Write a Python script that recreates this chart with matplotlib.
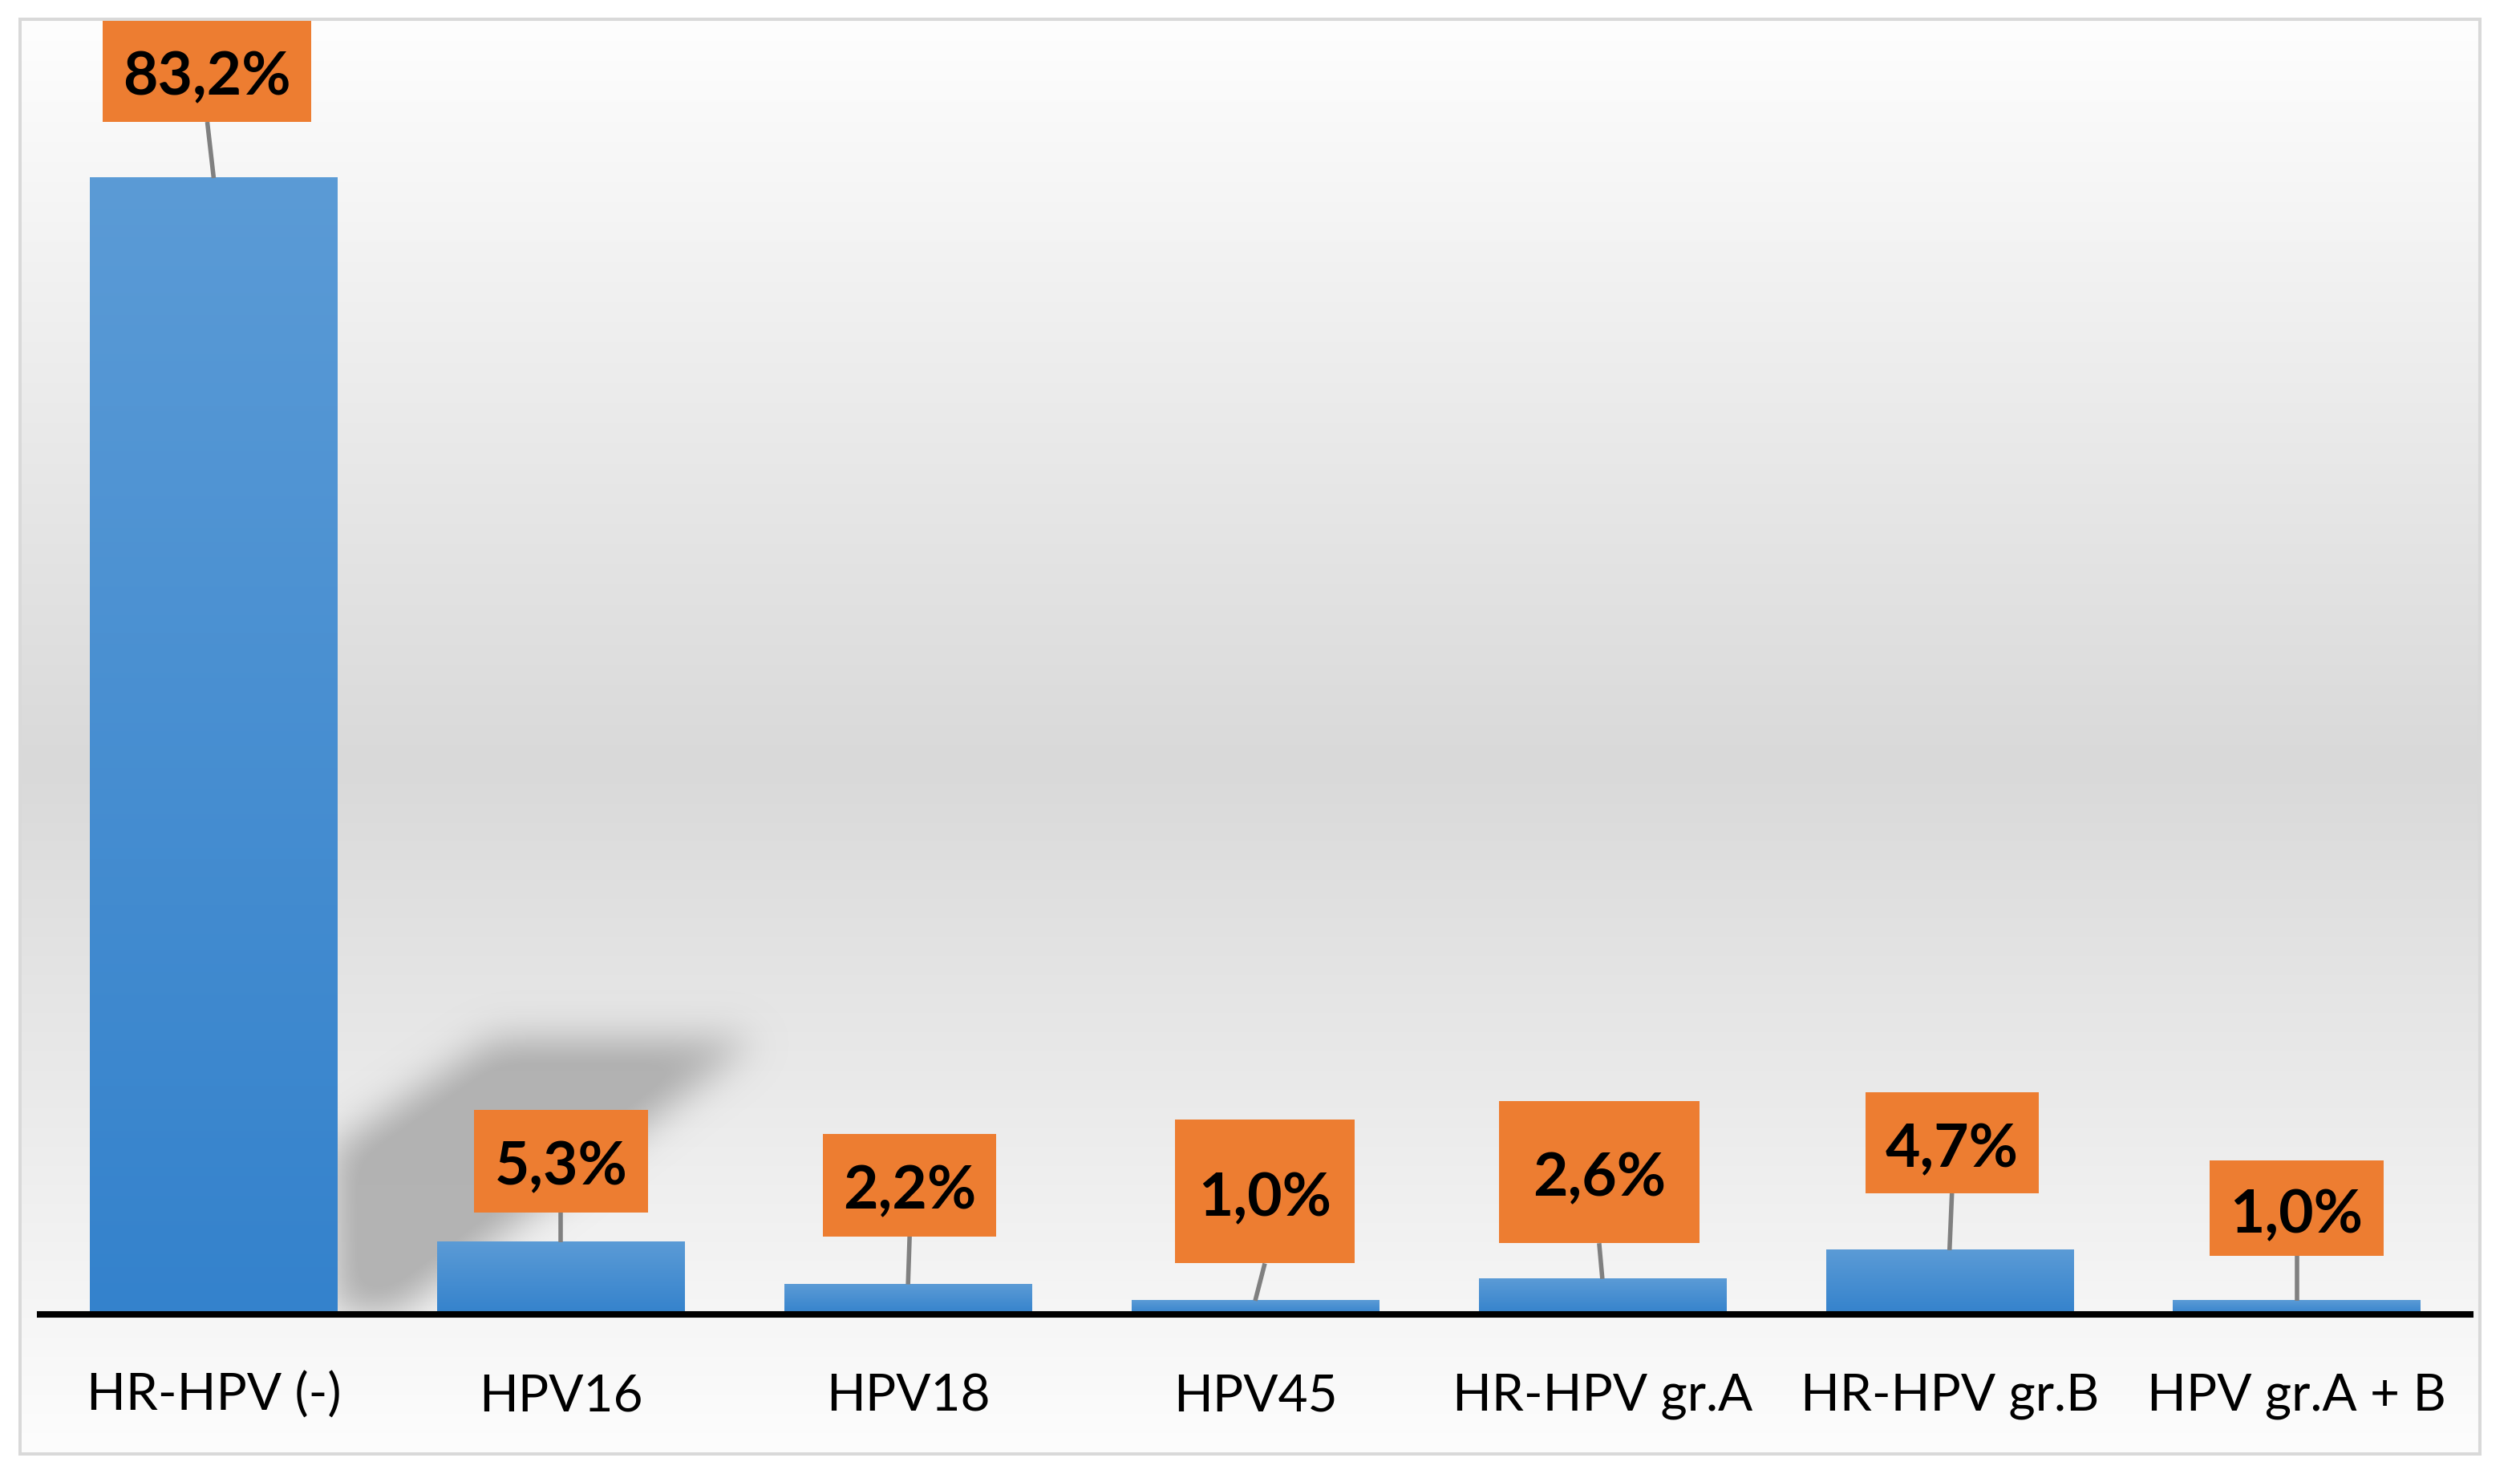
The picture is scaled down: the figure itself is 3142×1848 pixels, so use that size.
import numpy as np
import matplotlib
matplotlib.use("Agg")
import matplotlib.pyplot as plt
from matplotlib.patches import Rectangle
from matplotlib.path import Path

plt.rcParams["font.family"] = ["Lato", "DejaVu Sans"]

CATEGORIES = ["HR-HPV (-)", "HPV16", "HPV18", "HPV45",
              "HR-HPV gr.A", "HR-HPV gr.B", "HPV gr.A + B"]
PERCENT = [83.2, 5.3, 2.2, 1.0, 2.6, 4.7, 1.0]

W, H, DPI = 3142, 1848, 200
BAR_TOP = np.array([91, 155, 214]) / 255
BAR_BOTTOM = np.array([52, 130, 204]) / 255
ORANGE = "#ed7d31"

# label box layout (pixels): centre offset from bar top, box size
BOX_OFFSETS = [(-8, 134), (0, 101), (2, 124), (12, 136), (-4, 133), (3, 134), (0, 115)]
BOX_SIZES = [(260, 128), (217, 128), (216, 128), (224, 179), (250, 177), (216, 126), (217, 119)]


def blur(a, sigma):
    r = int(3 * sigma)
    k = np.exp(-0.5 * (np.arange(-r, r + 1) / sigma) ** 2)
    k /= k.sum()
    a = np.apply_along_axis(lambda m: np.convolve(m, k, mode="same"), 0, a)
    a = np.apply_along_axis(lambda m: np.convolve(m, k, mode="same"), 1, a)
    return a


def main():
    fig = plt.figure(figsize=(W / DPI, H / DPI), dpi=DPI)

    # background: vertical grey gradient + soft shadow artefact
    bg = fig.add_axes([0, 0, 1, 1])
    bg.set_xlim(0, W)
    bg.set_ylim(H, 0)
    bg.axis("off")
    ys = np.linspace(24, 1813, 400)
    t = (ys - 24) / (1813 - 24)
    peak = 0.52
    shade = np.where(t < peak, 254 - (254 - 217) * t / peak,
                     217 + (253 - 217) * (t - peak) / (1 - peak)) / 255
    grad = np.repeat(shade[:, None, None], 3, axis=2)
    bg.imshow(grad, extent=(25, 3090, 1813, 24), origin="upper",
              aspect="auto", interpolation="bilinear", zorder=0)

    x0, x1, y0, y1 = 360, 1100, 1140, 1638
    gx, gy = np.meshgrid(np.arange(x0, x1, 2), np.arange(y0, y1, 2))
    poly = Path([(415, 1430), (615, 1295), (940, 1295), (465, 1660), (415, 1660)])
    mask = poly.contains_points(np.c_[gx.ravel(), gy.ravel()]).reshape(gx.shape)
    mask = blur(mask.astype(float), 12)
    rgba = np.zeros(mask.shape + (4,))
    rgba[..., :3] = 0.66
    rgba[..., 3] = np.clip(mask * 0.95, 0, 0.85)
    bg.imshow(rgba, extent=(x0, x1, y1, y0), origin="upper", aspect="auto",
              interpolation="bilinear", zorder=1)

    # main chart
    ax = fig.add_axes([50 / W, (H - 1639) / H, 3030 / W, 1618 / H])
    ax.set_facecolor("none")
    xs = np.arange(len(CATEGORIES))
    bars = ax.bar(xs, PERCENT, width=0.712, color="none", edgecolor="none", zorder=2)
    g = np.linspace(0, 1, 256)[:, None]
    col = (BAR_TOP[None, :] * (1 - g) + BAR_BOTTOM[None, :] * g)[:, None, :]
    for b in bars:
        bx, bw, bh = b.get_x(), b.get_width(), b.get_height()
        ax.imshow(col, extent=(bx, bx + bw, 0, bh), origin="upper",
                  aspect="auto", interpolation="bilinear", zorder=2)

    ax.set_xlim(-0.5, 6.5)
    ax.set_ylim(0, 95)
    for s in ["top", "left", "right"]:
        ax.spines[s].set_visible(False)
    ax.spines["bottom"].set_linewidth(2.9)
    ax.spines["bottom"].set_color("black")
    ax.spines["bottom"].set_zorder(5)
    ax.set_xticks([])
    ax.set_yticks([])

    pos = ax.get_position()
    sx = pos.width * W / 7.0
    sy = pos.height * H / 95.0

    for i, v in enumerate(PERCENT):
        dx, dy = BOX_OFFSETS[i]
        bw, bh = BOX_SIZES[i]
        cx, cy = i + dx / sx, v + dy / sy
        ax.plot([cx, i], [cy - bh / 2 / sy, v], color="#808080", lw=2.0,
                solid_capstyle="butt", zorder=3, clip_on=False)
        ax.add_patch(Rectangle((cx - bw / 2 / sx, cy - bh / 2 / sy), bw / sx, bh / sy,
                               facecolor=ORANGE, edgecolor="none", zorder=4,
                               clip_on=False))
        ax.text(cx, cy - 30 / sy, f"{v:.1f}%".replace(".", ","), ha="center",
                va="baseline", fontsize=27, fontweight="bold", color="black",
                zorder=6, clip_on=False)

    for i, name in enumerate(CATEGORIES):
        ax.annotate(name, xy=(i, 0), xycoords=("data", "axes fraction"),
                    xytext=(0, -120 / (DPI / 72)), textcoords="offset points",
                    ha="center", va="baseline", fontsize=23, color="black")

    fig.add_artist(Rectangle((25 / W, 1 - 1813 / H), 3067 / W, 1789 / H,
                             transform=fig.transFigure, fill=False,
                             edgecolor="#d9d9d9", lw=1.45, zorder=10))

    fig.savefig("out.png", dpi=DPI, facecolor="white")
    plt.close(fig)


if __name__ == "__main__":
    main()
